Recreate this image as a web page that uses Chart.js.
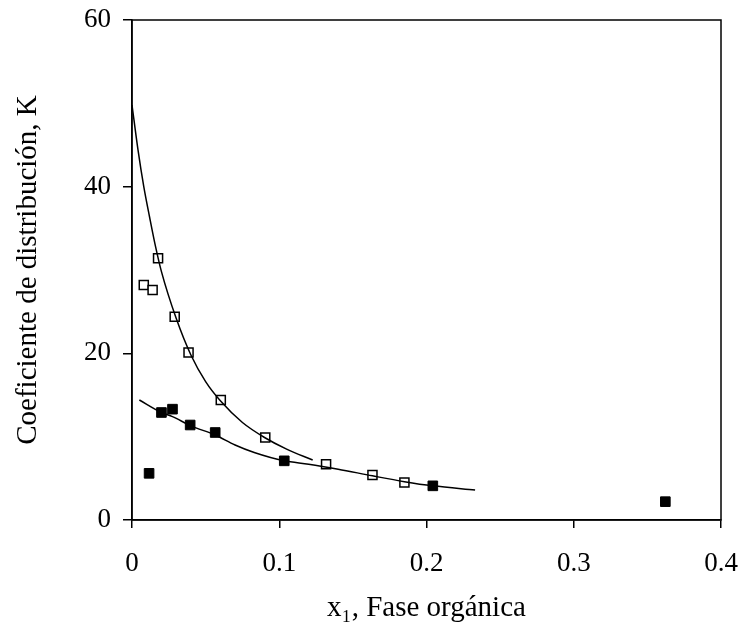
<!DOCTYPE html>
<html>
<head>
<meta charset="utf-8">
<script src="https://cdn.jsdelivr.net/npm/chart.js@4/dist/chart.umd.min.js"></script>
<style>
  html, body { margin: 0; padding: 0; background: #fff; }
  #wrap { width: 741px; height: 626px; }
</style>
</head>
<body>
<div id="wrap"><canvas id="myChart" width="741" height="626"></canvas></div>
<script>
// open squares (measured)
const openX = [0.008, 0.014, 0.0177, 0.029, 0.0384, 0.0603, 0.0905, 0.1318, 0.1633, 0.185]
const openY = [28.2, 27.6, 31.4, 24.4, 20.1, 14.4, 9.9, 6.7, 5.4, 4.5]

// filled squares
const filledX = [0.0116, 0.020, 0.0275, 0.0395, 0.0565, 0.1034, 0.2043, 0.3622]
const filledY = [5.6, 12.9, 13.3, 11.4, 10.5, 7.1, 4.1, 2.2]

// fitted curves
const upperX = [0, 0.004, 0.008, 0.012, 0.016, 0.02, 0.03, 0.04, 0.05, 0.06, 0.075, 0.09, 0.105, 0.1227]
const upperY = [49.8, 44.5, 40, 36.3, 32.8, 29.8, 24.2, 19.8, 16.6, 14.3, 11.7, 9.9, 8.5, 7.2]
const lowerX = [0.005, 0.02, 0.0275, 0.04, 0.0565, 0.07, 0.083, 0.1034, 0.12, 0.14, 0.1633, 0.185, 0.2043, 0.233]
const lowerY = [14.4, 12.9, 12.4, 11.3, 10.2, 9.0, 8.1, 7.1, 6.7, 6.1, 5.3, 4.6, 4.1, 3.6]

const xTicks = [0, 0.1, 0.2, 0.3, 0.4]
const yTicks = [0, 20, 40, 60]

const pts = (xs, ys) => xs.map((x, i) => ({ x: x, y: ys[i] }))

const serif = "'Liberation Serif', 'Times New Roman', serif"

// no extra room for overflowing tick labels, layout padding decides the plot box
const noPad = s => {
    s.paddingLeft = 0
    s.paddingRight = 0
    s.paddingTop = 0
    s.paddingBottom = 0
}

// full box around the plot area
const frame = {
    id: 'frame',
    afterDraw(chart) {
        const a = chart.chartArea
        const ctx = chart.ctx
        ctx.save()
        ctx.strokeStyle = '#000'
        ctx.lineWidth = 1.5
        ctx.strokeRect(a.left, a.top, a.right - a.left, a.bottom - a.top)
        ctx.restore()
    }
}

const ctx = document.getElementById('myChart').getContext('2d')

new Chart(ctx, {
    type: 'scatter',
    data: {
        datasets: [
            {
                type: 'line',
                data: pts(upperX, upperY),
                borderColor: '#000',
                borderWidth: 1.5,
                pointRadius: 0,
                cubicInterpolationMode: 'monotone',
                fill: false
            },
            {
                type: 'line',
                data: pts(lowerX, lowerY),
                borderColor: '#000',
                borderWidth: 1.5,
                pointRadius: 0,
                cubicInterpolationMode: 'monotone',
                fill: false
            },
            {
                data: pts(openX, openY),
                pointStyle: 'rect',
                pointRadius: 6.4,
                backgroundColor: '#fff',
                borderColor: '#000',
                borderWidth: 1.5
            },
            {
                data: pts(filledX, filledY),
                pointStyle: 'rect',
                pointRadius: 6.8,
                backgroundColor: '#000',
                borderColor: '#000',
                borderWidth: 1
            }
        ]
    },
    options: {
        responsive: false,
        animation: false,
        layout: { padding: { top: 20, right: 20, left: 0, bottom: 0 } },
        plugins: {
            legend: { display: false },
            tooltip: { enabled: false }
        },
        scales: {
            x: {
                type: 'linear',
                min: 0,
                max: 0.4,
                afterBuildTicks: s => { s.ticks = xTicks.map(v => ({ value: v })) },
                afterFit: s => { s.height = 106; noPad(s) },
                grid: {
                    display: true,
                    drawOnChartArea: false,
                    drawTicks: true,
                    tickLength: 8,
                    color: '#000',
                    lineWidth: 1.5
                },
                border: { color: '#000', width: 1.5 },
                ticks: {
                    color: '#000',
                    padding: 20,
                    maxRotation: 0,
                    font: { family: serif, size: 27 },
                    callback: v => String(v)
                },
                title: {
                    display: true,
                    text: 'x\u2081, Fase orgánica',
                    color: '#000',
                    font: { family: serif, size: 29 },
                    padding: { top: 0, bottom: 0 }
                }
            },
            y: {
                min: 0,
                max: 60,
                afterBuildTicks: s => { s.ticks = yTicks.map(v => ({ value: v })) },
                afterFit: s => { s.width = 132; noPad(s) },
                grid: {
                    display: true,
                    drawOnChartArea: false,
                    drawTicks: true,
                    tickLength: 9,
                    color: '#000',
                    lineWidth: 1.5
                },
                border: { color: '#000', width: 1.5 },
                ticks: {
                    color: '#000',
                    padding: 12,
                    font: { family: serif, size: 27 }
                },
                title: {
                    display: true,
                    text: 'Coeficiente de distribución, K',
                    color: '#000',
                    font: { family: serif, size: 29 },
                    padding: { top: 11, bottom: 0 }
                }
            }
        }
    },
    plugins: [frame]
})
</script>
</body>
</html>
